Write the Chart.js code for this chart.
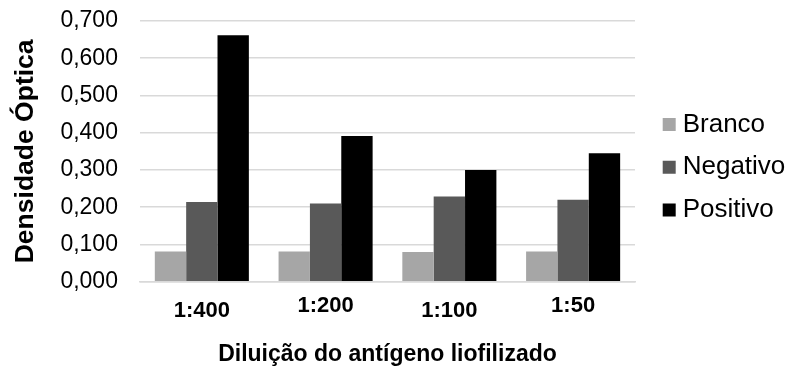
<!DOCTYPE html>
<html>
<head>
<meta charset="utf-8">
<script src="https://cdn.jsdelivr.net/npm/chart.js@4"></script>
<style>
  html, body { margin: 0; padding: 0; background: #fff; }
  #wrap { width: 790px; height: 367px; position: relative; }
</style>
</head>
<body>
<div id="wrap"><canvas id="grafico"></canvas></div>
<script>
  var diluicoes = ["1:400", "1:200", "1:100", "1:50"];
  var branco = [0.081, 0.081, 0.080, 0.081];
  var negativo = [0.214, 0.210, 0.229, 0.220];
  var positivo = [0.662, 0.391, 0.300, 0.345];

  var fonte = 'Liberation Sans, Arial, sans-serif';
  var ctx = document.getElementById("grafico").getContext("2d");

  var grafico = new Chart(ctx, {
    type: 'bar',
    data: {
      labels: diluicoes,
      datasets: [
        { label: "Branco", data: branco, backgroundColor: '#a6a6a6' },
        { label: "Negativo", data: negativo, backgroundColor: '#595959' },
        { label: "Positivo", data: positivo, backgroundColor: '#000000' }
      ]
    },
    options: {
      responsive: true,
      maintainAspectRatio: false,
      animation: false,
      layout: { padding: { top: 21, right: 0, bottom: -1.5, left: 10 } },
      datasets: {
        bar: { categoryPercentage: 0.76, barPercentage: 1.0 }
      },
      plugins: {
        tooltip: { enabled: false },
        legend: {
          position: 'right',
          align: 'start',
          maxWidth: 138,
          // título vazio só para descer a legenda
          title: { display: true, text: '', font: { size: 4 }, padding: { top: 0, bottom: 69 } },
          labels: {
            font: { family: fonte, size: 26 },
            color: '#000',
            usePointStyle: true,
            pointStyle: 'rect',
            boxWidth: 1,
            boxHeight: 13,
            padding: 16.7
          }
        }
      },
      scales: {
        x: {
          grid: { display: false, drawTicks: false },
          border: { color: '#d9d9d9', width: 1.5 },
          ticks: {
            // rótulos alternados como no original
            font: function (c) {
              return { family: fonte, size: 22, weight: 'bold', lineHeight: c.index % 2 ? 0.75 : 1.2 };
            },
            color: '#000',
            padding: 16.4
          },
          title: {
            display: true,
            text: "Diluição do antígeno liofilizado",
            font: { family: fonte, size: 23, weight: 'bold' },
            color: '#000',
            padding: { top: 0, bottom: 0 }
          }
        },
        y: {
          min: 0,
          max: 0.7,
          border: { display: false },
          grid: { color: '#d9d9d9', lineWidth: 1.5, drawTicks: true, tickLength: 22, tickColor: 'rgba(0,0,0,0)' },
          ticks: {
            stepSize: 0.1,
            font: { family: fonte, size: 23 },
            color: '#000',
            padding: 0,
            callback: function (v) { return v.toFixed(3).replace('.', ','); }
          },
          title: {
            display: true,
            text: "Densidade Óptica",
            font: { family: fonte, size: 26.5, weight: 'bold' },
            color: '#000',
            padding: { top: 0, bottom: 18.6 }
          }
        },
        // espaço vazio entre o gráfico e a legenda
        espaco: {
          position: 'right',
          display: true,
          grid: { display: false },
          border: { display: false },
          ticks: { display: false },
          afterFit: function (s) { s.width = 17; }
        }
      }
    }
  });
</script>
</body>
</html>
